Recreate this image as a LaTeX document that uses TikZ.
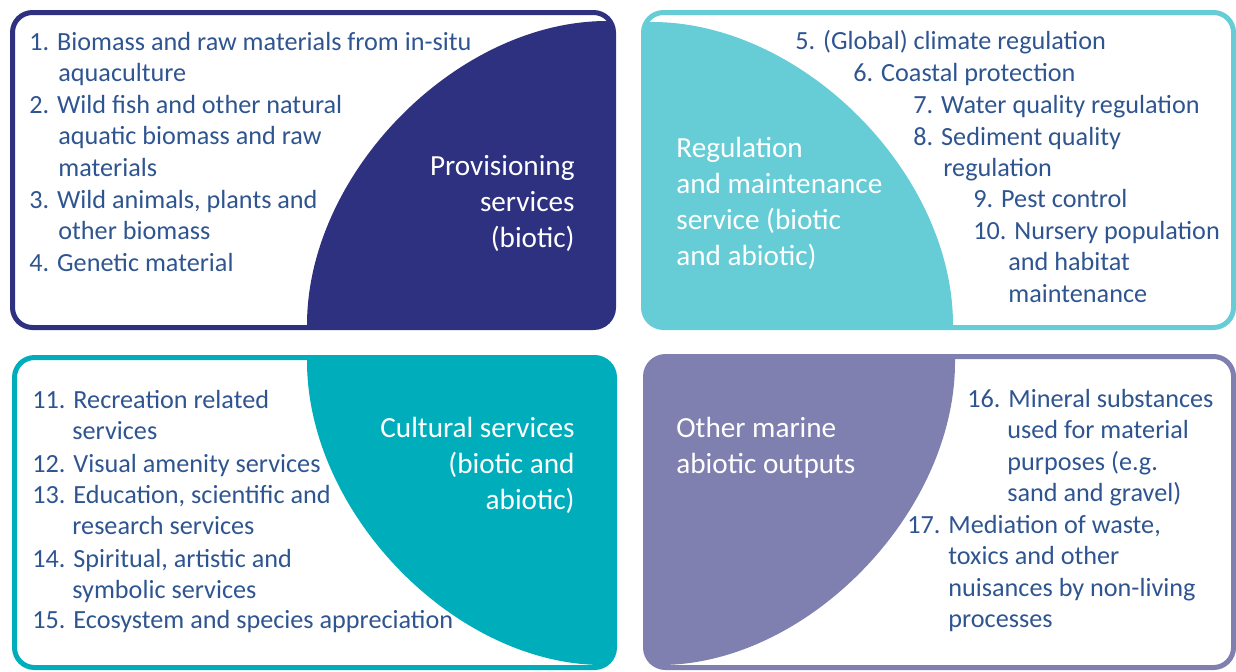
\documentclass[tikz,border=0pt]{standalone}
\usepackage{fontspec}
\setmainfont{Carlito}
\definecolor{navy}{RGB}{46,49,128}
\definecolor{cyanfill}{RGB}{102,205,214}
\definecolor{tealfill}{RGB}{0,174,187}
\definecolor{purplefill}{RGB}{128,128,176}
\definecolor{itemblue}{RGB}{47,85,145}
\newcommand\myitemfont{\fontsize{13.1}{15.8}\selectfont}
\newcommand\mylabelfont{\fontsize{14.6}{18}\selectfont}
\newcommand\col[1]{\begin{tabular}[t]{@{}l@{}}#1\end{tabular}}
\newcommand\rcol[1]{\begin{tabular}[t]{@{}r@{}}#1\end{tabular}}
\begin{document}
\begin{tikzpicture}[x=0.5pt,y=-0.5pt,
  item/.style={anchor=base west,inner sep=0pt,text=itemblue,font=\myitemfont},
  lab/.style={anchor=base west,inner sep=0pt,text=white,font=\mylabelfont},
  rlab/.style={anchor=base east,inner sep=0pt,text=white,font=\mylabelfont},
  frame/.style={line width=2.5pt,rounded corners=10pt}]
\useasboundingbox (0,0) rectangle (1236,671);
% Box 1
\begin{scope}
\clip[rounded corners=10pt] (12.5,12.5) rectangle (613.5,327.5);
\fill[navy] (307,340) -- (307,325) .. controls (307,173) and (457,21) .. (607,21) -- (640,21) -- (640,340) -- cycle;
\end{scope}
\draw[frame,navy] (12.5,12.5) rectangle (613.5,327.5);
% Box 2
\begin{scope}
\clip[rounded corners=10pt] (643.5,12.5) rectangle (1233.5,327.5);
\fill[cyanfill] (630,22) -- (652,22) .. controls (802,22) and (953,173) .. (953,325) -- (953,340) -- (630,340) -- cycle;
\end{scope}
\draw[frame,cyanfill] (643.5,12.5) rectangle (1233.5,327.5);
% Box 3
\begin{scope}
\clip[rounded corners=10pt] (14.5,357.5) rectangle (614.5,667.5);
\fill[tealfill] (307,350) -- (307,361) .. controls (307,513) and (455,665) .. (603,665) -- (640,665) -- (640,350) -- cycle;
\end{scope}
\draw[frame,tealfill] (14.5,357.5) rectangle (614.5,667.5);
% Box 4
\begin{scope}
\clip[rounded corners=10pt] (645.5,356.5) rectangle (1233.5,667.5);
\fill[purplefill] (955,350) -- (955,362) .. controls (955,513) and (807,665) .. (660,665) -- (630,665) -- (630,350) -- cycle;
\end{scope}
\draw[frame,purplefill] (645.5,356.5) rectangle (1233.5,667.5);

% Box 1 texts
\node[item] (i1) at (29,50) {\col{1. Biomass and raw materials from in-situ\\\hspace*{14.5pt}aquaculture}};
\node[item] (i2) at (29,113) {\col{2. Wild fish and other natural\\\hspace*{14.5pt}aquatic biomass and raw\\\hspace*{14.5pt}materials}};
\node[item] (i3) at (29,208) {\col{3. Wild animals, plants and\\\hspace*{14.5pt}other biomass}};
\node[item] (i4) at (29,271) {\col{4. Genetic material}};
\node[rlab] (l1) at (575,175) {\rcol{Provisioning\\services\\(biotic)}};

% Box 2 texts
\node[lab] (l2) at (676,157) {\col{Regulation\\and maintenance\\service (biotic\\and abiotic)}};
\node[item] (i5) at (795,49) {\col{5. (Global) climate regulation}};
\node[item] (i6) at (853,81) {\col{6. Coastal protection}};
\node[item] (i7) at (913,113) {\col{7. Water quality regulation}};
\node[item] (i8) at (913,145) {\col{8. Sediment quality\\\hspace*{15pt}regulation}};
\node[item] (i9) at (973,207) {\col{9. Pest control}};
\node[item] (i10) at (973,239) {\col{10. Nursery population\\\hspace*{17.5pt}and habitat\\\hspace*{17.5pt}maintenance}};

% Box 3 texts
\node[item] (i11) at (32,408) {\col{11. Recreation related\\\hspace*{20pt}services}};
\node[item] (i12) at (32,472) {\col{12. Visual amenity services}};
\node[item] (i13) at (32,503) {\col{13. Education, scientific and\\\hspace*{20pt}research services}};
\node[item] (i14) at (32,567) {\col{14. Spiritual, artistic and\\\hspace*{20pt}symbolic services}};
\node[item] (i15) at (32,628) {\col{15. Ecosystem and species appreciation}};
\node[rlab] (l3) at (575,437) {\rcol{Cultural services\\(biotic and\\abiotic)}};

% Box 4 texts
\node[lab] (l4) at (676,437) {\col{Other marine\\abiotic outputs}};
\node[item] (i16) at (967,407) {\col{16. Mineral substances\\\hspace*{20pt}used for material\\\hspace*{20pt}purposes (e.g.\\\hspace*{20pt}sand and gravel)}};
\node[item] (i17) at (907,533) {\col{17. Mediation of waste,\\\hspace*{20.5pt}toxics and other\\\hspace*{20.5pt}nuisances by non-living\\\hspace*{20.5pt}processes}};
\end{tikzpicture}
\end{document}
